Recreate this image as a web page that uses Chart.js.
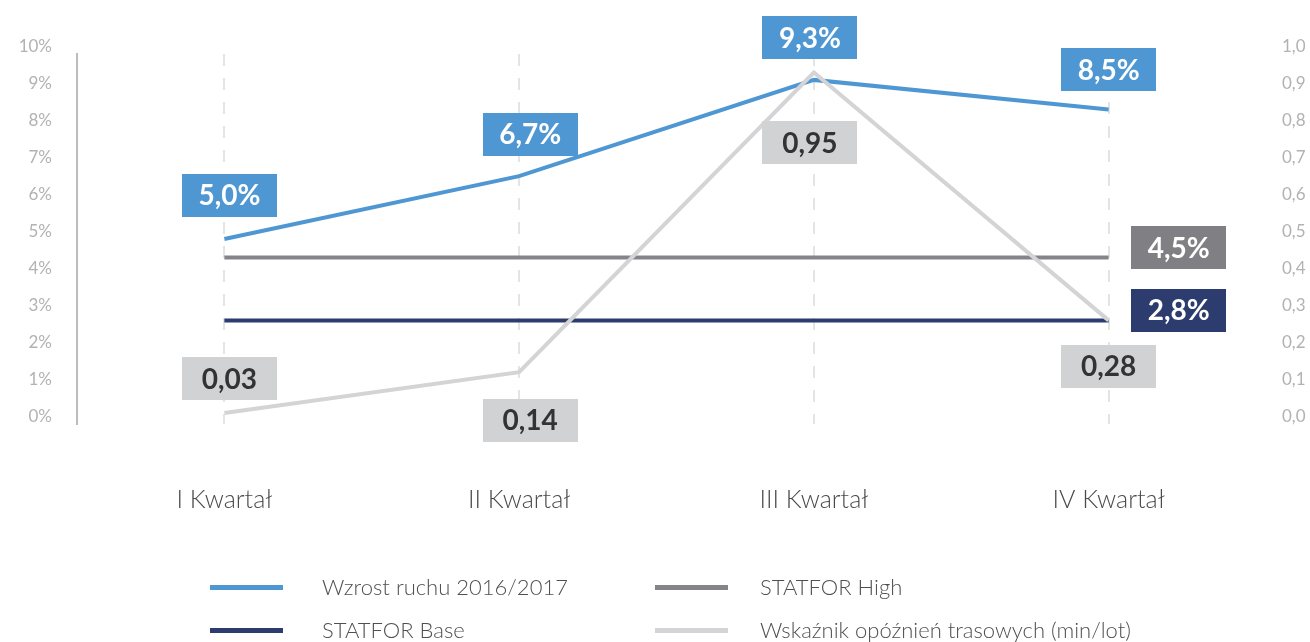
<!DOCTYPE html>
<html>
<head>
<meta charset="utf-8">
<script src="https://cdn.jsdelivr.net/npm/chart.js@4.4.1/dist/chart.umd.min.js"></script>
<style>
  html, body { margin: 0; padding: 0; background: #fff; }
  #wrap { position: relative; width: 1310px; height: 642px; }
  #legend { position: absolute; left: 0; top: 0; width: 1310px; height: 642px; pointer-events: none;
            font-family: Lato, 'Open Sans', sans-serif; font-size: 22px; color: #505050; font-weight: 300; }
  .lg-sw { position: absolute; width: 73px; height: 5px; }
  .lg-tx { position: absolute; line-height: 26px; white-space: nowrap; }
</style>
</head>
<body>
<div id="wrap">
  <canvas id="ruch" width="1310" height="642"></canvas>
  <div id="legend"></div>
</div>
<script>
  var kwartaly = ['I Kwartał', 'II Kwartał', 'III Kwartał', 'IV Kwartał'];
  var wzrostRuchu = [5.0, 6.7, 9.3, 8.5];
  var statforHigh = [4.5, 4.5, 4.5, 4.5];
  var statforBase = [2.8, 2.8, 2.8, 2.8];
  var opoznienia = [0.03, 0.14, 0.95, 0.28];
  var tickiProcent = [0, 1, 2, 3, 4, 5, 6, 7, 8, 9, 10];
  var tickiMinuty = [0, 0.1, 0.2, 0.3, 0.4, 0.5, 0.6, 0.7, 0.8, 0.9, 1.0];

  function przecinek(v, d) {
    return v.toFixed(d).replace('.', ',');
  }

  // etykiety w prostokatach przy punktach
  var boxLabels = {
    id: 'boxLabels',
    afterDatasetsDraw: function (chart) {
      var ctx = chart.ctx;
      chart.data.datasets.forEach(function (ds, i) {
        if (!ds.etykiety) { return; }
        var meta = chart.getDatasetMeta(i);
        ds.etykiety.forEach(function (et, j) {
          if (!et) { return; }
          var pt = meta.data[j];
          var cx = pt.x + et[0];
          var cy = pt.y + et[1];
          var w = 95, h = 43;
          ctx.save();
          ctx.fillStyle = ds.etykietaTlo;
          ctx.fillRect(Math.round(cx - w / 2), Math.round(cy - h / 2), w, h);
          ctx.fillStyle = ds.etykietaKolor;
          ctx.font = 'bold 28px Lato, sans-serif';
          ctx.textAlign = 'center';
          ctx.textBaseline = 'middle';
          ctx.fillText(ds.format(ds.data[j]), cx, cy + 1);
          ctx.restore();
        });
      });
    }
  };

  var ctx = document.getElementById('ruch');
  var wykres = new Chart(ctx, {
    type: 'line',
    data: {
      labels: kwartaly,
      datasets: [
        {
          label: 'Wzrost ruchu 2016/2017',
          data: wzrostRuchu,
          yAxisID: 'y',
          borderColor: '#4f97d3',
          backgroundColor: '#4f97d3',
          borderWidth: 4,
          pointRadius: 0,
          tension: 0,
          order: 1,
          etykiety: [[5, -44], [11, -42], [-4, -42], [0, -40]],
          etykietaTlo: '#4f97d3',
          etykietaKolor: '#ffffff',
          format: function (v) { return przecinek(v, 1) + '%'; }
        },
        {
          label: 'STATFOR High',
          data: statforHigh,
          yAxisID: 'y',
          borderColor: '#858589',
          backgroundColor: '#858589',
          borderWidth: 4,
          pointRadius: 0,
          order: 2,
          etykiety: [null, null, null, [70, -10]],
          etykietaTlo: '#808084',
          etykietaKolor: '#ffffff',
          format: function (v) { return przecinek(v, 1) + '%'; }
        },
        {
          label: 'STATFOR Base',
          data: statforBase,
          yAxisID: 'y',
          borderColor: '#2d3c6e',
          backgroundColor: '#2d3c6e',
          borderWidth: 4,
          pointRadius: 0,
          order: 3,
          etykiety: [null, null, null, [70, -10]],
          etykietaTlo: '#2d3c6e',
          etykietaKolor: '#ffffff',
          format: function (v) { return przecinek(v, 1) + '%'; }
        },
        {
          label: 'Wskaźnik opóźnień trasowych (min/lot)',
          data: opoznienia,
          yAxisID: 'y1',
          borderColor: '#d4d4d6',
          backgroundColor: '#d4d4d6',
          borderWidth: 4,
          pointRadius: 0,
          tension: 0,
          order: 0,
          etykiety: [[5, -34], [11, 48], [-4, 70], [0, 46]],
          etykietaTlo: '#d1d2d4',
          etykietaKolor: '#333333',
          format: function (v) { return przecinek(v, 2); }
        }
      ]
    },
    options: {
      responsive: false,
      animation: false,
      layout: { padding: { top: 54, left: 0, right: 0, bottom: 0 } },
      scales: {
        x: {
          offset: true,
          grid: { color: '#e4e4e4', lineWidth: 2, drawTicks: false },
          border: { display: false, dash: [12, 12] },
          ticks: {
            color: '#4a4a4a',
            padding: 61,
            font: { family: 'Lato', size: 25, weight: 300 }
          },
          afterFit: function (s) { s.height = 218; }
        },
        y: {
          position: 'left',
          min: 0,
          max: 10,
          afterBuildTicks: function (s) { s.ticks = tickiProcent.map(function (v) { return { value: v }; }); },
          grid: { drawOnChartArea: false, drawTicks: false },
          border: { display: true, color: '#bcbcbc', width: 2 },
          ticks: {
            color: '#b2b2b2',
            padding: 25,
            labelOffset: -7,
            font: { family: 'Lato', size: 17 },
            callback: function (v) { return v + '%'; }
          },
          afterFit: function (s) { s.width = 77; }
        },
        y1: {
          position: 'right',
          min: 0,
          max: 1,
          afterBuildTicks: function (s) { s.ticks = tickiMinuty.map(function (v) { return { value: v }; }); },
          grid: { drawOnChartArea: false, drawTicks: false },
          border: { display: false },
          ticks: {
            color: '#b2b2b2',
            padding: 26,
            labelOffset: -7,
            font: { family: 'Lato', size: 17 },
            callback: function (v) { return przecinek(v, 1); }
          },
          afterFit: function (s) { s.width = 54; }
        }
      },
      plugins: {
        legend: { display: false },
        tooltip: { enabled: false }
      }
    },
    plugins: [boxLabels]
  });

  // legenda w dwoch kolumnach
  var kolejnosc = [0, 1, 2, 3];
  var kolumnySw = [210, 655];
  var kolumnyTx = [322, 760];
  var wiersze = [587, 630];
  var legenda = document.getElementById('legend');
  var pozycje = [[0, 0], [1, 0], [0, 1], [1, 1]];
  kolejnosc.forEach(function (idx, k) {
    var ds = wykres.data.datasets[idx];
    var kol = pozycje[k][0], wrs = pozycje[k][1];
    var sw = document.createElement('div');
    sw.className = 'lg-sw';
    sw.style.left = kolumnySw[kol] + 'px';
    sw.style.top = (wiersze[wrs] - 2.5) + 'px';
    sw.style.background = ds.borderColor;
    legenda.appendChild(sw);
    var tx = document.createElement('div');
    tx.className = 'lg-tx';
    tx.style.left = kolumnyTx[kol] + 'px';
    tx.style.top = (wiersze[wrs] - 13) + 'px';
    tx.textContent = ds.label;
    legenda.appendChild(tx);
  });
</script>
</body>
</html>
